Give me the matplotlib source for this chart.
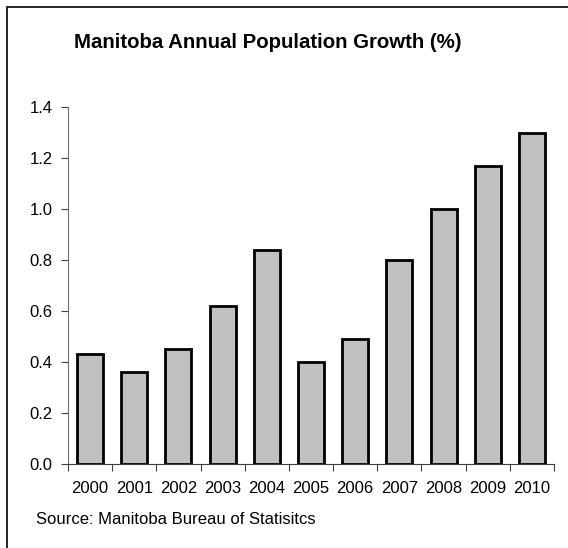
import matplotlib.pyplot as plt
from matplotlib.patches import Rectangle

years = ['2000', '2001', '2002', '2003', '2004', '2005', '2006', '2007', '2008', '2009', '2010']
growth = [0.43, 0.36, 0.45, 0.62, 0.84, 0.40, 0.49, 0.80, 1.00, 1.17, 1.30]
yticks = [0.0, 0.2, 0.4, 0.6, 0.8, 1.0, 1.2, 1.4]

plt.rcParams['font.family'] = ['Liberation Sans', 'DejaVu Sans']

fig = plt.figure(figsize=(5.68, 5.48), dpi=100)
ax = fig.add_axes([68/568, 1-464/548, (554-68)/568, (464-107)/548])

# chart-area frame (right and bottom edges run off the image)
fig.patches.append(Rectangle((7/568, -0.05), 1.1, 1-7/548+0.05, transform=fig.transFigure,
                             fill=False, edgecolor='black', linewidth=1.2))

x = range(len(years))
ax.bar(x, growth, width=0.59, color='#C0C0C0', edgecolor='black', linewidth=2)

ax.set_xlim(-0.5, len(years)-0.5)
ax.set_ylim(0, 1.4)
ax.set_yticks(yticks)
ax.set_yticklabels(['%.1f' % v for v in yticks], fontsize=12)
# ticks between categories, year labels centred under bars
ax.set_xticks([i-0.5 for i in range(len(years)+1)])
ax.set_xticklabels([])
ax.set_xticks(list(x), minor=True)
ax.set_xticklabels(years, minor=True, fontsize=12)
ax.tick_params(axis='x', which='minor', length=0, pad=12.5)
ax.tick_params(axis='x', which='major', length=5, direction='out', color='#404040')
ax.tick_params(axis='y', length=5, direction='out', color='#404040', pad=6)

for s in ['top', 'right']:
    ax.spines[s].set_visible(False)
ax.spines['left'].set_color('#707070')
ax.spines['bottom'].set_color('#404040')

fig.text(268/568, 1-42/548, 'Manitoba Annual Population Growth (%)', ha='center', va='center',
         fontsize=14.7, fontweight='bold')
fig.text(36/568, 1-520/548, 'Source: Manitoba Bureau of Statisitcs', ha='left', va='center',
         fontsize=12)

fig.savefig('out.png', dpi=100)
